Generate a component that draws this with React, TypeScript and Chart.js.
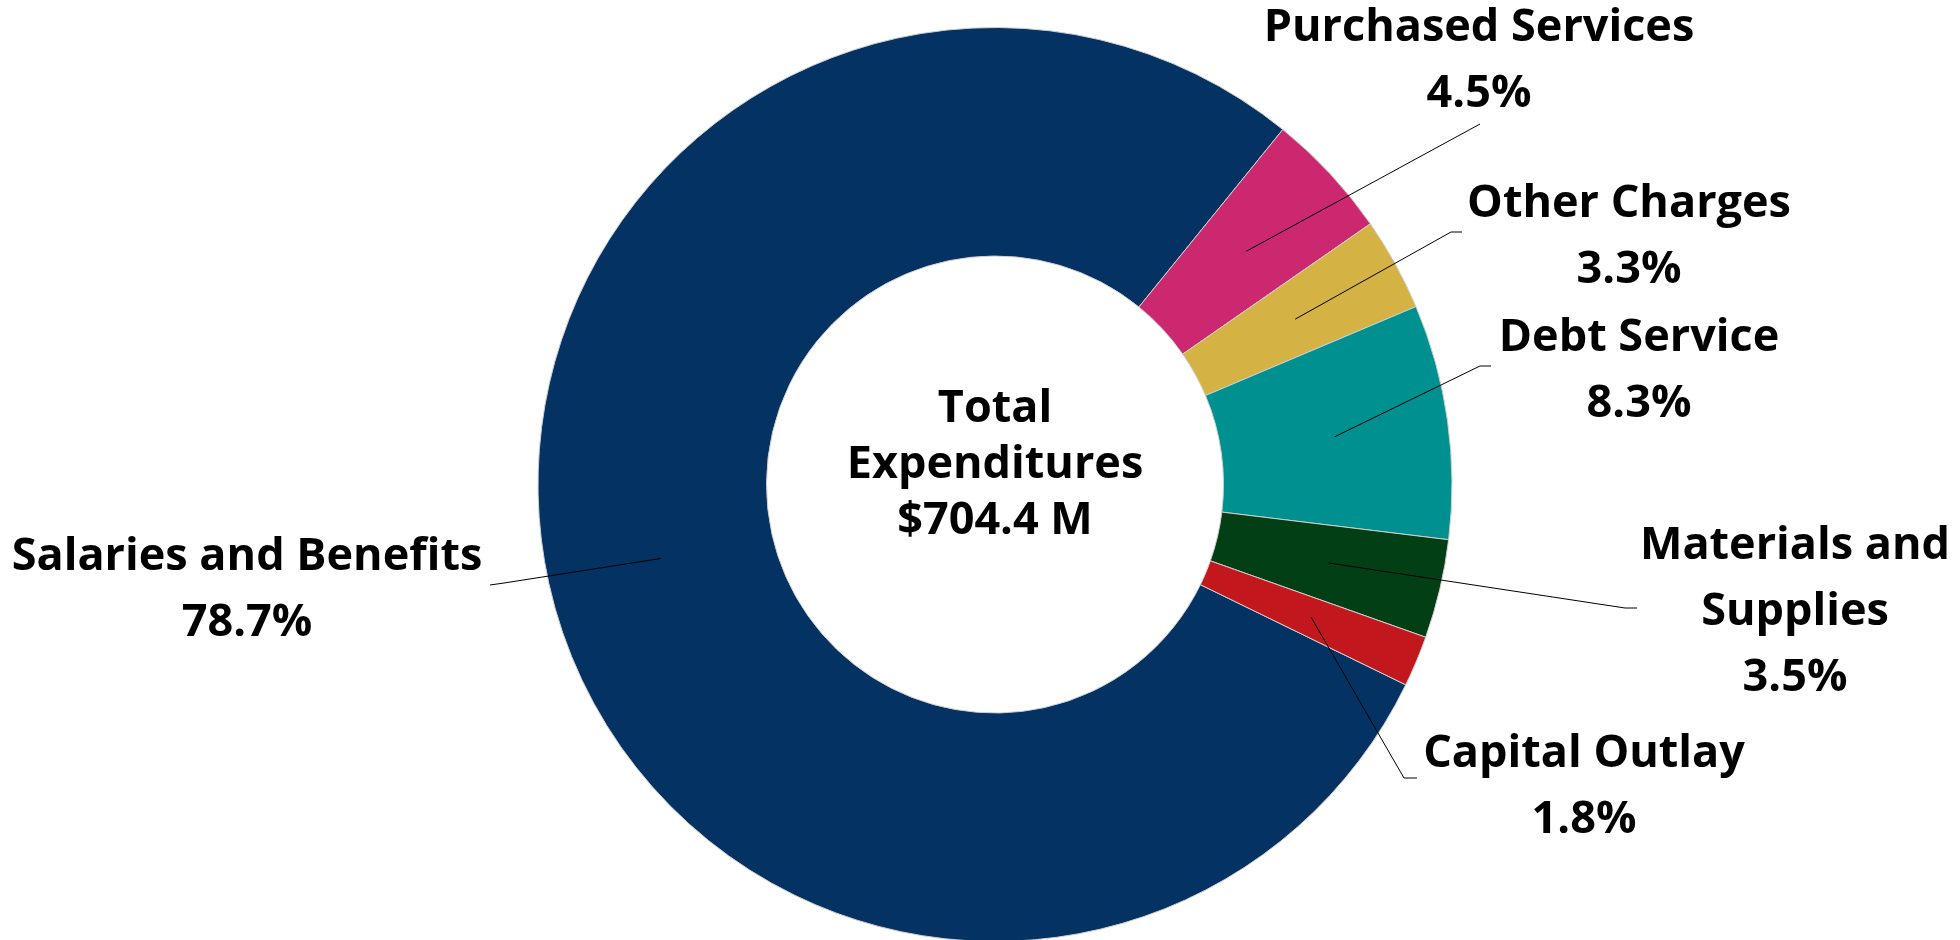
import React, { useEffect, useRef } from "react";
import { Chart, registerables } from "chart.js";

Chart.register(...registerables);

// ---- data ----
const categories = [
  "Salaries and Benefits",
  "Purchased Services",
  "Other Charges",
  "Debt Service",
  "Materials and Supplies",
  "Capital Outlay",
];
const percentages = [78.7, 4.5, 3.3, 8.3, 3.5, 1.8];
const labelLines = [
  ["Salaries and Benefits"],
  ["Purchased Services"],
  ["Other Charges"],
  ["Debt Service"],
  ["Materials and", "Supplies"],
  ["Capital Outlay"],
];
const centerLines = ["Total", "Expenditures", "$704.4 M"];

// ---- styles / layout ----
const sliceColors = ["#033263", "#CB2870", "#D4B244", "#009090", "#033F15", "#C3171E"];
const FONT = '"Open Sans", "Noto Sans", sans-serif';
const LABEL_SIZE = 45;
const LABEL_GAP = 66;
const CENTER_GAP = 56;
// label text anchor (center x, first-line center y), leader elbow and end
const labelLayout = [
  { x: 247, y: 557, elbow: [504, 583], end: [490, 585] },
  { x: 1479, y: 28, elbow: [1480, 124], end: [1480, 124] },
  { x: 1629, y: 204, elbow: [1451, 232], end: [1462, 232] },
  { x: 1639, y: 338, elbow: [1480, 366], end: [1491, 366] },
  { x: 1795, y: 546, elbow: [1625, 608], end: [1637, 608] },
  { x: 1584, y: 754, elbow: [1404, 778], end: [1417, 778] },
];

const labelPlugin = {
  id: "donutLabels",
  afterDraw(chart: any) {
    const ctx = chart.ctx;
    const meta = chart.getDatasetMeta(0);
    const total = percentages.reduce((a, b) => a + b, 0);
    ctx.save();
    meta.data.forEach((arc: any, i: number) => {
      const p = arc.tooltipPosition();
      const lay = labelLayout[i];
      ctx.strokeStyle = "#000";
      ctx.lineWidth = 1;
      ctx.beginPath();
      ctx.moveTo(p.x, p.y);
      ctx.lineTo(lay.elbow[0], lay.elbow[1]);
      ctx.lineTo(lay.end[0], lay.end[1]);
      ctx.stroke();
      ctx.fillStyle = "#000";
      ctx.font = `bold ${LABEL_SIZE}px ${FONT}`;
      ctx.textAlign = "center";
      ctx.textBaseline = "middle";
      const lines = [...labelLines[i], percentages[i].toFixed(1) + "%"];
      lines.forEach((t, k) => ctx.fillText(t, lay.x, lay.y + k * LABEL_GAP));
    });
    const cx = meta.data[0].x;
    const cy = meta.data[0].y;
    ctx.font = `bold ${LABEL_SIZE}px ${FONT}`;
    ctx.textAlign = "center";
    ctx.textBaseline = "middle";
    ctx.fillStyle = "#000";
    const startY = cy - 19 - ((centerLines.length - 1) * CENTER_GAP) / 2;
    centerLines.forEach((t, k) => ctx.fillText(t, cx, startY + k * CENTER_GAP));
    ctx.restore();
    void total;
  },
};

export default function App() {
  const ref = useRef<HTMLCanvasElement>(null);
  useEffect(() => {
    document.body.style.margin = "0";
    const chart = new Chart(ref.current!, {
      type: "doughnut",
      data: {
        labels: categories,
        datasets: [
          {
            data: percentages,
            backgroundColor: sliceColors,
            borderColor: "#d0d0d0",
            borderWidth: 1,
          },
        ],
      },
      options: {
        responsive: false,
        animation: false,
        devicePixelRatio: 1,
        rotation: 116,
        cutout: "50%",
        layout: { padding: { left: 30, right: 0, top: 27, bottom: 18 } },
        plugins: { legend: { display: false }, tooltip: { enabled: false } },
      },
      plugins: [labelPlugin],
    });
    return () => chart.destroy();
  }, []);
  return (
    <div style={{ width: 1960, height: 940, overflow: "hidden", background: "#fff" }}>
      <canvas ref={ref} width={1960} height={960} style={{ display: "block" }} />
    </div>
  );
}
